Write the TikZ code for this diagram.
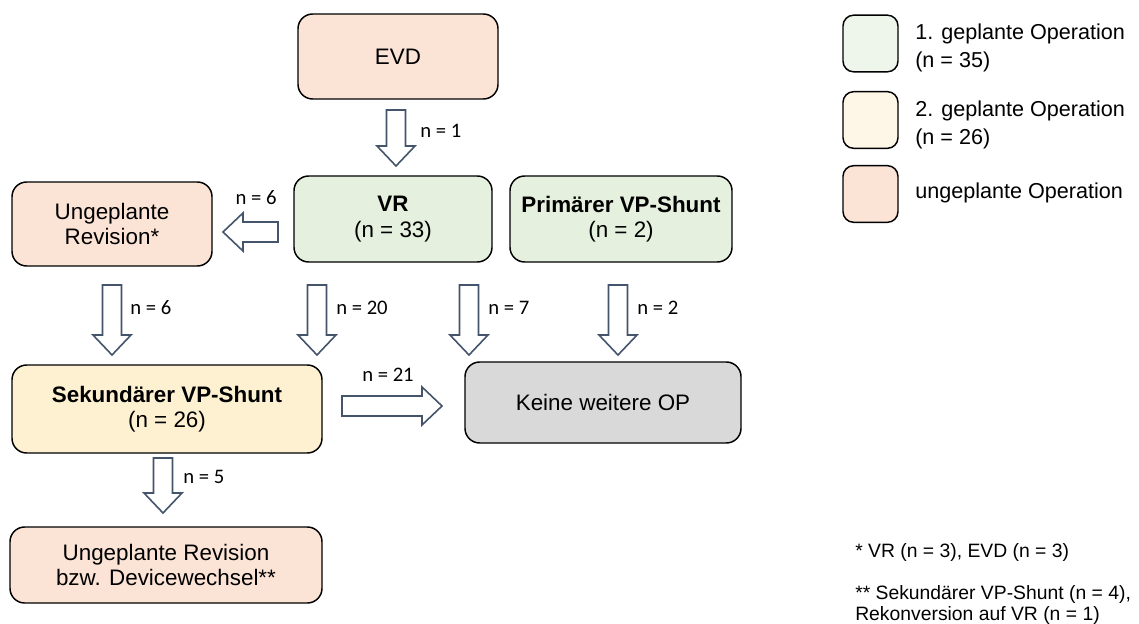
\documentclass[tikz,border=0pt]{standalone}
\usepackage{fontspec}
\setmainfont{Liberation Sans}
\newfontfamily\lblfont{Carlito}
\usetikzlibrary{calc}
\definecolor{salmon}{HTML}{FBE3D6}
\definecolor{greenbox}{HTML}{E6F0DE}
\definecolor{yellowbox}{HTML}{FEF1D2}
\definecolor{graybox}{HTML}{D9D9D9}
\definecolor{legendgreen}{HTML}{EEF5EB}
\definecolor{legendyellow}{HTML}{FEF6E6}
\definecolor{arrowline}{HTML}{44546A}
\tikzset{
  box/.style={draw=black, line width=1.1pt, rounded corners=11pt, align=center,
    font=\fontsize{16.8}{19}\selectfont, inner sep=2pt},
  legbox/.style={draw=black, line width=1.1pt, rounded corners=8pt,
    minimum width=41.25pt, minimum height=42.5pt, inner sep=0pt},
  legtext/.style={anchor=west, align=left, font=\fontsize{16.2}{21.5}\selectfont, inner sep=0pt},
  nlabel/.style={font=\lblfont\fontsize{15.5}{17}\selectfont, inner sep=0pt},
  foot/.style={anchor=west, align=left, font=\fontsize{14.5}{15.5}\selectfont, inner sep=0pt},
  blk/.style={draw=arrowline, fill=white, line width=1.2pt, line join=miter}
}
% vertical block arrow: x, y top, y tip (pixel units, y downward)
\newcommand\blkdown[3]{%
  \draw[blk] (#1-9.5,#2) -- (#1+9.5,#2) -- (#1+9.5,#3-20) -- (#1+19,#3-20)
    -- (#1,#3) -- (#1-19,#3-20) -- (#1-9.5,#3-20) -- cycle;}
% horizontal block arrow: y, x start, x tip, direction (+1 or -1)
\newcommand\blkhor[4]{%
  \draw[blk] (#2,#1-10) -- (#3-#4*20,#1-10) -- (#3-#4*20,#1-19) -- (#3,#1)
    -- (#3-#4*20,#1+19) -- (#3-#4*20,#1+10) -- (#2,#1+10) -- cycle;}
\begin{document}
\begin{tikzpicture}[x=0.75pt, y=-0.75pt]
\useasboundingbox (0,0) rectangle (1139,624);
\fill[white] (0,0) rectangle (1139,624);

% main boxes
\node[box, fill=salmon, minimum width=150pt, minimum height=63.75pt] (evd) at (398,56.5) {EVD};
\node[box, fill=greenbox, minimum width=148.5pt, minimum height=64.5pt] (vr) at (393,219) {\textbf{VR}\\(n = 33)};
\node[box, fill=greenbox, minimum width=166.5pt, minimum height=64.5pt] (prim) at (621,219) {\textbf{Primärer VP-Shunt}\\(n = 2)};
\node[box, fill=salmon, minimum width=150pt, minimum height=63pt] (ungrev) at (112,224) {Ungeplante\\Revision*};
\node[box, fill=yellowbox, minimum width=232.5pt, minimum height=66pt] (sek) at (167,409) {\textbf{Sekundärer VP-Shunt}\\(n = 26)};
\node[box, fill=graybox, minimum width=207pt, minimum height=60.75pt] (keine) at (603,402.5) {Keine weitere OP};
\node[box, fill=salmon, minimum width=234pt, minimum height=57pt] (devw) at (166,565) {Ungeplante Revision\\bzw. Devicewechsel**};

% block arrows
\blkdown{396}{110}{166}
\node[nlabel, anchor=west] (l1) at (420,131) {n = 1};

\blkhor{232}{278}{223}{-1}
\node[nlabel] (l6a) at (256,198) {n = 6};

\blkdown{112}{285}{355}
\node[nlabel, anchor=west] (l6b) at (130,308) {n = 6};
\blkdown{317}{285}{355}
\node[nlabel, anchor=west] (l20) at (336,308) {n = 20};
\blkdown{469}{285}{355}
\node[nlabel, anchor=west] (l7) at (488,308) {n = 7};
\blkdown{618}{285}{355}
\node[nlabel, anchor=west] (l2) at (637,308) {n = 2};

\blkhor{406}{342}{442}{1}
\node[nlabel] (l21) at (388,375) {n = 21};

\blkdown{163}{458}{513}
\node[nlabel, anchor=west] (l5) at (183,477) {n = 5};

% legend
\node[legbox, fill=legendgreen] (lg1) at (870.5,43.5) {};
\node[legtext] (lt1) at (915,48) {1. geplante Operation\\(n = 35)};
\node[legbox, fill=legendyellow] (lg2) at (870.5,120) {};
\node[legtext] (lt2) at (915,125) {2. geplante Operation\\(n = 26)};
\node[legbox, fill=salmon] (lg3) at (870.5,194) {};
\node[legtext] (lt3) at (915,193) {ungeplante Operation};

% footnotes
\node[foot] (f1) at (855,552) {* VR (n = 3), EVD (n = 3)};
\node[foot] (f2) at (855,605) {** Sekundärer VP-Shunt (n = 4),\\Rekonversion auf VR (n = 1)};
\end{tikzpicture}
\end{document}
